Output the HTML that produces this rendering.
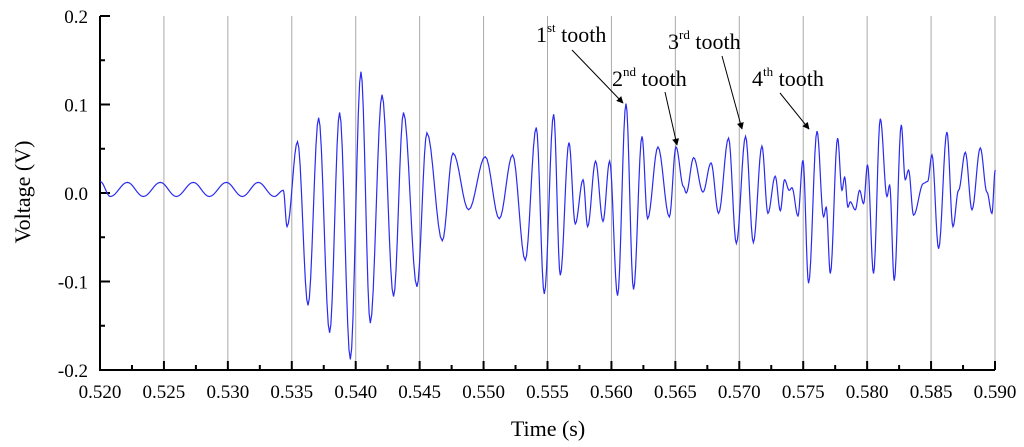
<!DOCTYPE html>
<html><head><meta charset="utf-8"><style>
html,body{margin:0;padding:0;background:#fff;width:1024px;height:447px;overflow:hidden}
svg{display:block;font-family:"Liberation Serif",serif}
</style></head><body>
<svg id="chart" width="1024" height="447" viewBox="0 0 1024 447">
<defs><marker id="ah" viewBox="0 0 10 10" refX="9" refY="5" markerWidth="7" markerHeight="9" orient="auto-start-reverse"><path d="M0,0 L10,5 L0,10 z" fill="#000"/></marker></defs>
<g id="grid"></g>
<g id="axes"></g>
<path id="wave" fill="none" stroke="#2a2af0" stroke-width="1.2"/>
<text x="548" y="436" font-size="22" text-anchor="middle">Time (s)</text>
<text transform="translate(30,192) rotate(-90)" font-size="22" text-anchor="middle">Voltage (V)</text>
<g font-size="22">
<text x="536" y="42">1<tspan font-size="13" dy="-10">st</tspan><tspan dy="10"> tooth</tspan></text>
<line x1="572" y1="50" x2="623" y2="103" stroke="#000" marker-end="url(#ah)"/>
<text x="612" y="86">2<tspan font-size="13" dy="-10">nd</tspan><tspan dy="10"> tooth</tspan></text>
<line x1="665" y1="92" x2="677" y2="145" stroke="#000" marker-end="url(#ah)"/>
<text x="668" y="49">3<tspan font-size="13" dy="-10">rd</tspan><tspan dy="10"> tooth</tspan></text>
<line x1="722" y1="56" x2="742" y2="129" stroke="#000" marker-end="url(#ah)"/>
<text x="752" y="86">4<tspan font-size="13" dy="-10">th</tspan><tspan dy="10"> tooth</tspan></text>
<line x1="780" y1="93" x2="809" y2="129" stroke="#000" marker-end="url(#ah)"/>
</g>
</svg>
<script>
const xTicks=[0.520,0.525,0.530,0.535,0.540,0.545,0.550,0.555,0.560,0.565,0.570,0.575,0.580,0.585,0.590];
const yTicks=[-0.2,-0.1,0.0,0.1,0.2];
const timesMs=[520.02,520.81,522.14,523.39,524.72,525.97,527.30,528.55,529.88,531.13,532.38,533.63,534.34,
534.63,535.45,536.27,537.10,537.96,538.74,539.58,540.41,541.14,542.06,542.96,543.74,544.79,545.57,546.77,547.61,548.83,550.13,551.23,552.27,553.26,554.12,554.75,555.48,556.00,556.68,557.17,557.78,558.14,558.76,559.34,559.86,560.48,561.14,561.73,562.39,562.83,563.64,564.53,565.05,565.64,565.85,566.43,567.16,567.79,568.38,569.16,569.77,570.49,571.10,571.77,572.24,572.81,573.21,573.54,573.91,574.12,574.59,574.98,575.42,576.08,576.59,576.80,577.12,577.69,578.03,578.24,578.50,578.68,579.07,579.41,579.72,580.03,580.50,581.03,581.55,581.76,582.12,582.67,582.98,583.24,583.63,584.41,584.73,585.07,585.59,586.24,586.71,587.15,587.68,588.20,588.85,589.37,589.76,590.02];
const volts=[0.013,-0.004,0.012,-0.004,0.012,-0.004,0.012,-0.004,0.012,-0.004,0.012,-0.004,0.003,
-0.038,0.058,-0.127,0.085,-0.158,0.091,-0.188,0.137,-0.147,0.111,-0.117,0.091,-0.106,0.068,-0.054,0.045,-0.019,0.041,-0.029,0.043,-0.076,0.074,-0.114,0.089,-0.093,0.057,-0.035,0.015,-0.038,0.036,-0.032,0.036,-0.116,0.101,-0.109,0.064,-0.029,0.052,-0.027,0.052,0.007,0.000,0.040,0.001,0.034,-0.023,0.062,-0.057,0.064,-0.056,0.053,-0.023,0.019,-0.020,0.015,0.003,0.006,-0.026,0.037,-0.102,0.070,-0.027,-0.016,-0.091,0.062,0.003,0.018,-0.016,-0.010,-0.019,0.003,-0.012,0.032,-0.091,0.084,-0.004,0.009,-0.099,0.077,0.015,0.026,-0.025,0.011,0.013,0.043,-0.063,0.069,-0.038,0.003,0.046,-0.019,0.051,0.001,-0.023,0.026];
const L=100,R=995,T=16,B=370;
const xs=t=>L+(t-0.520)/0.070*(R-L);
const ys=v=>B-(v+0.2)/0.4*(B-T);
const NS='http://www.w3.org/2000/svg';
function mk(tag,attrs,parent){const e=document.createElementNS(NS,tag);for(const k in attrs)e.setAttribute(k,attrs[k]);parent.appendChild(e);return e;}
const grid=document.getElementById('grid'),axes=document.getElementById('axes');
xTicks.forEach((t,i)=>{
  if(i>0){const g=mk('line',{x1:xs(t),x2:xs(t),y1:T,y2:B,stroke:'#aaa','stroke-width':1},grid);
  
  }
  const tk=mk('line',{x1:xs(t),x2:xs(t),y1:B,y2:B-9,stroke:'#000','stroke-width':2},axes);
  
  
  if(i<xTicks.length-1){const m=mk('line',{x1:xs(t+0.0025),x2:xs(t+0.0025),y1:B,y2:B-5,stroke:'#000','stroke-width':2},axes);
  
  }
  const lb=mk('text',{x:xs(t),y:B+28,'font-size':19,'text-anchor':'middle'},axes);lb.textContent=t.toFixed(3);
  
  
});
yTicks.forEach((v,i)=>{
  const tk=mk('line',{x1:L,x2:L+10,y1:ys(v),y2:ys(v),stroke:'#000','stroke-width':2},axes);
  
  
  if(i<yTicks.length-1){const m=mk('line',{x1:L,x2:L+5,y1:ys(v+0.05),y2:ys(v+0.05),stroke:'#000','stroke-width':2},axes);
  
  }
  const lb=mk('text',{x:L-12,y:ys(v)+7,'font-size':19,'text-anchor':'end'},axes);lb.textContent=v.toFixed(1);
  
  
});
const ax=mk('path',{d:`M${L},${T} L${L},${B} L${R},${B}`,fill:'none',stroke:'#000','stroke-width':2},axes);


let d='M'+xs(timesMs[0]/1000)+','+ys(volts[0]);
for(let i=1;i<timesMs.length;i++){
  const x0=xs(timesMs[i-1]/1000),x1=xs(timesMs[i]/1000),a=volts[i-1],b=volts[i];
  for(let s=1;s<=8;s++){const u=s/8;const v=a+(b-a)*(1-Math.cos(Math.PI*u))/2;d+=' L'+(x0+(x1-x0)*u).toFixed(2)+','+ys(v).toFixed(2);}
}
document.getElementById('wave').setAttribute('d',d);
</script>
</body></html>
